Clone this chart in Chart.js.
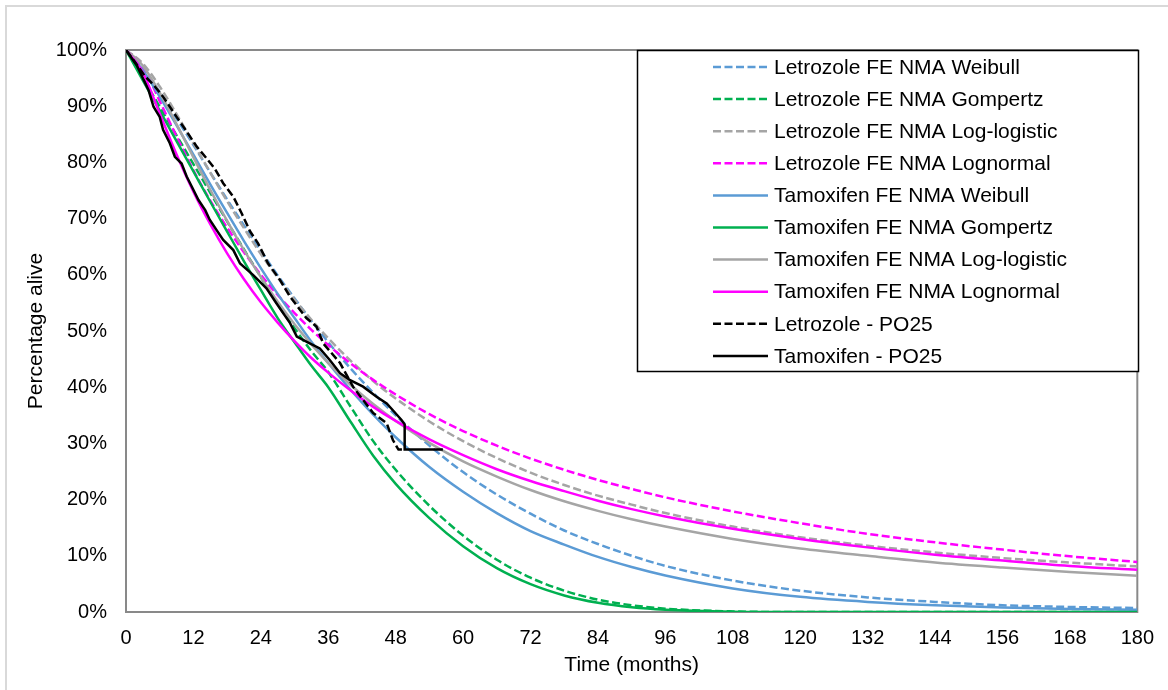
<!DOCTYPE html>
<html>
<head>
<meta charset="utf-8">
<title>Survival extrapolation</title>
<script src="https://cdn.jsdelivr.net/npm/chart.js@4.4.0/dist/chart.umd.min.js"></script>
<style>
  html, body { margin: 0; padding: 0; background: #fff; }
  #wrap { width: 1168px; height: 690px; position: relative; }
</style>
</head>
<body>
<div id="wrap"><canvas id="chart-survival" width="1168" height="690"></canvas></div>
<script>
// time grid (months) shared by the fitted curves
const months = [0, 3, 6, 9, 12, 15, 18, 21, 24, 27, 30, 33, 36, 40, 44, 48, 54, 60, 66, 72, 78, 84, 90, 96, 108, 120, 132, 144, 156, 168, 180];

// percentage alive, fitted models
const letWeibull     = [100, 96.8, 92.5, 87.8, 83.1, 78.2, 73.4, 68.8, 64.3, 59.9, 55.8, 51.8, 48.0, 43.3, 39.0, 35.0, 29.6, 24.9, 20.9, 17.5, 14.5, 12.1, 10.0, 8.2, 5.6, 3.8, 2.6, 1.8, 1.2, 0.9, 0.7];
const letGompertz    = [100, 95.0, 89.9, 84.8, 79.7, 74.6, 69.5, 64.5, 59.6, 54.7, 50.5, 46.4, 42.7, 36.5, 30.4, 25.3, 18.9, 13.6, 9.3, 6.1, 3.8, 2.2, 1.2, 0.6, 0.1, 0, 0, 0, 0, 0, 0];
const letLoglogistic = [100, 97.6, 93.5, 88.6, 83.4, 78.2, 73.1, 68.3, 63.7, 59.5, 55.6, 52.0, 48.7, 44.7, 41.1, 38.0, 33.9, 30.4, 27.4, 24.8, 22.6, 20.7, 19.1, 17.6, 15.2, 13.3, 11.8, 10.6, 9.6, 8.8, 8.1];
const letLognormal   = [100, 97.0, 90.9, 84.6, 78.6, 73.2, 68.4, 64.0, 60.0, 56.4, 53.2, 50.2, 47.5, 44.2, 41.3, 38.7, 35.2, 32.2, 29.6, 27.3, 25.3, 23.5, 21.9, 20.4, 17.9, 15.8, 13.9, 12.4, 11.1, 9.9, 8.9];
const tamWeibull     = [100, 96.4, 91.7, 86.6, 81.4, 76.1, 71.0, 66.0, 61.2, 56.6, 52.3, 48.1, 44.3, 39.5, 35.1, 31.1, 25.8, 21.4, 17.6, 14.4, 12.0, 9.8, 8.0, 6.5, 4.2, 2.7, 1.8, 1.2, 0.8, 0.55, 0.4];
const tamGompertz    = [100, 94.6, 89.2, 83.8, 78.4, 73.0, 67.7, 62.4, 57.3, 52.3, 48.0, 43.8, 40.0, 33.8, 27.8, 22.8, 16.7, 11.7, 7.8, 4.95, 2.95, 1.64, 0.84, 0.4, 0.06, 0, 0, 0, 0, 0, 0];
const tamLoglogistic = [100, 97.2, 92.4, 86.8, 80.9, 75.1, 69.6, 64.4, 59.6, 55.2, 51.2, 47.6, 44.3, 40.4, 37.0, 34.0, 30.1, 26.8, 24.1, 21.7, 19.7, 18.0, 16.5, 15.2, 13.0, 11.3, 10.0, 8.8, 7.9, 7.1, 6.45];
const tamLognormal   = [100, 96.0, 88.7, 81.4, 74.8, 69.0, 63.8, 59.2, 55.1, 51.5, 48.2, 45.2, 42.6, 39.4, 36.5, 34.0, 30.7, 27.9, 25.4, 23.3, 21.5, 19.8, 18.3, 17.0, 14.8, 13.0, 11.5, 10.2, 9.15, 8.2, 7.5];

// Kaplan-Meier (PO25)
const letKmMonths = [0, 1.5, 3.4, 4.9, 6.6, 9.0, 10.8, 12.6, 14.6, 15.8, 17.3, 19.1, 20.6, 22.1, 23.5, 25.3, 27.4, 29.2, 32.1, 33.9, 35.1, 38.1, 40.4, 42.2, 44.0, 46.4, 47.5, 48.2, 48.5, 49.6];
const letKmPct    = [100, 98.0, 95.3, 93.8, 91.7, 88.1, 85.5, 82.8, 80.4, 78.9, 76.3, 73.9, 70.9, 67.7, 65.6, 62.0, 59.1, 56.1, 52.3, 50.8, 47.8, 44.3, 40.1, 37.7, 35.4, 33.6, 30.6, 29.4, 28.9, 28.9];
const tamKmMonths = [0, 1.9, 4.0, 4.9, 6.0, 6.6, 7.8, 8.7, 9.9, 10.8, 11.7, 12.9, 14.1, 14.9, 16.1, 17.3, 19.1, 20.3, 22.6, 25.0, 26.8, 29.2, 30.4, 32.7, 34.5, 36.3, 38.1, 39.8, 42.2, 44.6, 46.4, 47.5, 49.0, 49.6, 49.6, 56.4];
const tamKmPct    = [100, 97.3, 92.9, 89.9, 88.1, 85.8, 83.4, 81.0, 79.8, 77.5, 75.7, 73.3, 71.5, 69.8, 68.0, 66.2, 64.4, 62.0, 60.0, 57.6, 54.9, 51.4, 49.0, 47.8, 46.9, 44.8, 42.5, 41.3, 40.1, 38.3, 37.1, 35.9, 34.2, 33.4, 28.9, 28.9];

const BLUE = '#5b9bd5', GREEN = '#00b050', GREY = '#a5a5a5', PINK = '#ff00ff', BLACK = '#000000';
const FONT = '"Liberation Sans", Arial, sans-serif';

function curve(xs, ys) {
    return xs.map((x, i) => ({ x: x, y: ys[i] }));
}

function series(label, xs, ys, color, dashed, smooth) {
    return {
        label: label,
        data: curve(xs, ys),
        borderColor: color,
        backgroundColor: color,
        borderWidth: 2.5,
        borderDash: dashed ? [8, 3.5] : [],
        pointRadius: 0,
        fill: false,
        cubicInterpolationMode: smooth ? 'monotone' : 'default',
        tension: 0
    };
}

const datasets = [
    series('Letrozole FE NMA Weibull', months, letWeibull, BLUE, true, true),
    series('Letrozole FE NMA Gompertz', months, letGompertz, GREEN, true, true),
    series('Letrozole FE NMA Log-logistic', months, letLoglogistic, GREY, true, true),
    series('Letrozole FE NMA Lognormal', months, letLognormal, PINK, true, true),
    series('Tamoxifen FE NMA Weibull', months, tamWeibull, BLUE, false, true),
    series('Tamoxifen FE NMA Gompertz', months, tamGompertz, GREEN, false, true),
    series('Tamoxifen FE NMA Log-logistic', months, tamLoglogistic, GREY, false, true),
    series('Tamoxifen FE NMA Lognormal', months, tamLognormal, PINK, false, true),
    series('Letrozole - PO25', letKmMonths, letKmPct, BLACK, true, false),
    series('Tamoxifen - PO25', tamKmMonths, tamKmPct, BLACK, false, false)
];
// later series sit on top
datasets.forEach((ds, i) => { ds.order = datasets.length - i; });

// light frame round the whole chart
const outerFrame = {
    id: 'outerFrame',
    beforeDraw(chart) {
        const ctx = chart.ctx;
        ctx.save();
        ctx.fillStyle = '#fff';
        ctx.fillRect(0, 0, chart.width, chart.height);
        ctx.strokeStyle = '#d9d9d9';
        ctx.lineWidth = 2;
        ctx.strokeRect(6, 6, 1300, 1000);
        ctx.restore();
    }
};

// grey border round the plot area
const plotBorder = {
    id: 'plotBorder',
    beforeDatasetsDraw(chart) {
        const a = chart.chartArea;
        const ctx = chart.ctx;
        ctx.save();
        ctx.strokeStyle = '#898989';
        ctx.lineWidth = 2;
        ctx.strokeRect(a.left, a.top, a.right - a.left, a.bottom - a.top);
        ctx.restore();
    }
};

// boxed legend in the upper right of the plot
const legendBox = {
    id: 'legendBox',
    afterDraw(chart) {
        const ctx = chart.ctx;
        ctx.save();
        ctx.fillStyle = '#fff';
        ctx.fillRect(637, 50, 502, 322);
        ctx.strokeStyle = '#000';
        ctx.lineWidth = 1.5;
        ctx.strokeRect(637.5, 50.5, 501, 321);
        chart.data.datasets.forEach((ds, i) => {
            const y = 67 + i * 32.1;
            ctx.setLineDash(ds.borderDash);
            ctx.strokeStyle = ds.borderColor;
            ctx.lineWidth = ds.borderWidth;
            ctx.beginPath();
            ctx.moveTo(713, y);
            ctx.lineTo(768, y);
            ctx.stroke();
            ctx.setLineDash([]);
            ctx.fillStyle = '#000';
            ctx.font = '21px ' + FONT;
            ctx.textBaseline = 'middle';
            ctx.textAlign = 'left';
            ctx.fillText(ds.label, 774, y + 1);
        });
        ctx.restore();
    }
};

new Chart(document.getElementById('chart-survival').getContext('2d'), {
    type: 'line',
    data: { datasets: datasets },
    plugins: [outerFrame, plotBorder, legendBox],
    options: {
        responsive: false,
        animation: false,
        layout: { padding: { left: 10, top: 50, right: 30, bottom: 0 } },
        plugins: {
            legend: { display: false },
            tooltip: { enabled: false }
        },
        scales: {
            x: {
                type: 'linear',
                min: 0,
                max: 180,
                grid: { display: false, drawTicks: false },
                border: { display: false },
                ticks: { stepSize: 12, color: '#000', padding: 14, font: { family: FONT, size: 20 } },
                title: { display: true, text: 'Time (months)', color: '#000', padding: { top: 0, bottom: 12 }, font: { family: FONT, size: 21 } },
                afterFit: s => { s.height = 78; }
            },
            y: {
                min: 0,
                max: 100,
                grid: { display: false, drawTicks: false },
                border: { display: false },
                ticks: { stepSize: 10, color: '#000', padding: 19, font: { family: FONT, size: 20 }, callback: v => v + '%' },
                title: { display: true, text: 'Percentage alive', color: '#000', padding: { top: 14, bottom: 0 }, font: { family: FONT, size: 21 } },
                afterFit: s => { s.width = 116; }
            }
        }
    }
});
</script>
</body>
</html>
